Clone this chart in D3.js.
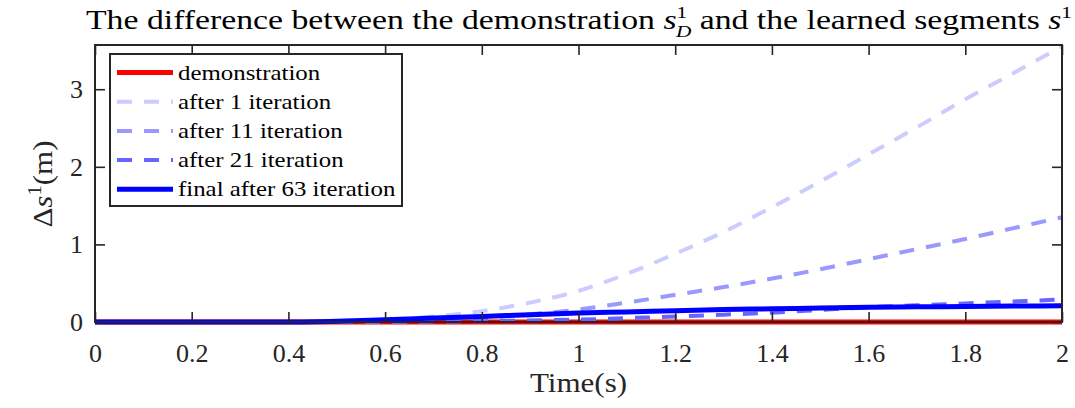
<!DOCTYPE html>
<html>
<head>
<meta charset="utf-8">
<style>
  body { margin: 0; background: #fff; }
  svg { font-family: 'Liberation Serif', 'Times New Roman', serif; }
  .axis .domain { display: none; }
  .axis .tick line { stroke: #262626; stroke-width: 1.6; }
  .axis .tick text { fill: #262626; }
</style>
</head>
<body>
<svg width="1075" height="408"></svg>
<script src="https://d3js.org/d3.v7.min.js"></script>
<script>
// time samples (s)
const time = [0, 0.1, 0.2, 0.3, 0.4, 0.5, 0.6, 0.7, 0.8, 0.9, 1.0,
              1.1, 1.2, 1.3, 1.4, 1.5, 1.6, 1.7, 1.8, 1.9, 2.0];
// difference values (m)
const demonstration = [0, 0, 0, 0, 0, 0, 0, 0, 0, 0, 0,
                       0, 0, 0, 0, 0, 0, 0, 0, 0, 0];
const after1 = [0, 0, 0, 0, 0, 0.01, 0.03, 0.07, 0.14, 0.25, 0.40,
                0.62, 0.88, 1.16, 1.48, 1.81, 2.16, 2.51, 2.87, 3.21, 3.55];
const after11 = [0, 0, 0, 0, 0, 0, 0.01, 0.02, 0.05, 0.10, 0.16,
                 0.25, 0.35, 0.45, 0.56, 0.68, 0.81, 0.94, 1.07, 1.21, 1.35];
const after21 = [0, 0, 0, 0, 0, 0, 0, 0.005, 0.01, 0.02, 0.03,
                 0.05, 0.07, 0.095, 0.12, 0.155, 0.19, 0.215, 0.24, 0.265, 0.29];
const final63 = [0, 0, 0, 0, 0, 0.01, 0.03, 0.05, 0.07, 0.095, 0.115,
                 0.13, 0.145, 0.16, 0.17, 0.18, 0.19, 0.195, 0.20, 0.205, 0.21];

const seriesNames = ["demonstration", "after 1 iteration", "after 11 iteration",
                     "after 21 iteration", "final after 63 iteration"];
const xTicks = [0, 0.2, 0.4, 0.6, 0.8, 1, 1.2, 1.4, 1.6, 1.8, 2];
const yTicks = [0, 1, 2, 3];

const series = [
  { name: seriesNames[0], values: demonstration, color: "#ff0000", width: 5, dash: null },
  { name: seriesNames[1], values: after1, color: "#ccccff", width: 4, dash: "15,12" },
  { name: seriesNames[2], values: after11, color: "#9999ff", width: 4, dash: "15,12" },
  { name: seriesNames[3], values: after21, color: "#6666ff", width: 4, dash: "15,12" },
  { name: seriesNames[4], values: final63, color: "#0000ff", width: 5, dash: null }
];

const svg = d3.select("svg");
const pl = 95, pr = 1062, pt = 45, pb = 322;
const stretch = 1.15; // Computer Modern is wider than Times
const serif = "'Liberation Serif', 'Times New Roman', serif";

const x = d3.scaleLinear().domain([0, 2]).range([pl, pr]);
const y = d3.scaleLinear().domain([0, 3.57]).range([pb, pt]);

svg.append("clipPath").attr("id", "plot")
  .append("rect")
  .attr("x", pl - 4).attr("y", pt - 4)
  .attr("width", pr - pl + 8).attr("height", pb - pt + 8);

// lines
const line = d3.line()
  .x((d, i) => x(time[i]))
  .y(d => y(d))
  .curve(d3.curveMonotoneX);

svg.append("g").attr("clip-path", "url(#plot)")
  .selectAll("path")
  .data(series)
  .join("path")
  .attr("fill", "none")
  .attr("stroke", d => d.color)
  .attr("stroke-width", d => d.width)
  .attr("stroke-dasharray", d => d.dash)
  .attr("d", d => line(d.values));

// axes (ticks inside, mirrored on top/right)
svg.append("g").attr("class", "axis")
  .attr("transform", `translate(0,${pb})`)
  .call(d3.axisBottom(x).tickValues(xTicks).tickSizeInner(-10).tickSizeOuter(0)
    .tickPadding(22).tickFormat(d3.format("~g")))
  .attr("font-family", serif).attr("font-size", 26);
svg.append("g").attr("class", "axis")
  .attr("transform", `translate(0,${pt})`)
  .call(d3.axisTop(x).tickValues(xTicks).tickSizeInner(-10).tickSizeOuter(0).tickFormat(""));
svg.append("g").attr("class", "axis")
  .attr("transform", `translate(${pl},0)`)
  .call(d3.axisLeft(y).tickValues(yTicks).tickSizeInner(-10).tickSizeOuter(0)
    .tickPadding(12).tickFormat(d3.format("d")))
  .attr("font-family", serif).attr("font-size", 26);
svg.append("g").attr("class", "axis")
  .attr("transform", `translate(${pr},0)`)
  .call(d3.axisRight(y).tickValues(yTicks).tickSizeInner(-10).tickSizeOuter(0).tickFormat(""));

svg.append("rect")
  .attr("x", pl).attr("y", pt)
  .attr("width", pr - pl).attr("height", pb - pt)
  .attr("fill", "none").attr("stroke", "#262626").attr("stroke-width", 2);

// title
const title = svg.append("text")
  .attr("x", 86).attr("y", 29)
  .attr("textLength", 986).attr("lengthAdjust", "spacingAndGlyphs")
  .attr("font-size", 27).attr("fill", "#000");
title.append("tspan").text("The difference between the demonstration ");
title.append("tspan").attr("font-style", "italic").text("s");
title.append("tspan").attr("font-size", 17).attr("dy", -11).text("1");
title.append("tspan").attr("font-size", 17).attr("font-style", "italic").attr("dx", -9).attr("dy", 19).text("D");
title.append("tspan").attr("dy", -8).text(" and the learned segments ");
title.append("tspan").attr("font-style", "italic").text("s");
title.append("tspan").attr("font-size", 17).attr("dy", -11).text("1");

// axis labels
svg.append("text")
  .attr("transform", `translate(${(pl + pr) / 2},392) scale(${stretch},1)`)
  .attr("text-anchor", "middle")
  .attr("font-size", 27).attr("fill", "#262626")
  .text("Time(s)");

const yl = svg.append("text")
  .attr("transform", `translate(52,184) rotate(-90) scale(${stretch},1)`)
  .attr("text-anchor", "middle")
  .attr("font-size", 27).attr("fill", "#262626");
yl.append("tspan").text("Δ");
yl.append("tspan").attr("font-style", "italic").text("s");
yl.append("tspan").attr("font-size", 18).attr("dy", -11).text("1");
yl.append("tspan").attr("dy", 11).text("(m)");

// legend
const lg = svg.append("g");
lg.append("rect")
  .attr("x", 110).attr("y", 54)
  .attr("width", 292).attr("height", 152)
  .attr("fill", "#fff").attr("stroke", "#262626").attr("stroke-width", 2);
const items = lg.selectAll("g.item")
  .data(series)
  .join("g")
  .attr("class", "item")
  .attr("transform", (d, i) => `translate(0,${72.5 + i * 29.2})`);
items.append("line")
  .attr("x1", 117).attr("x2", 173)
  .attr("stroke", d => d.color)
  .attr("stroke-width", d => d.width)
  .attr("stroke-dasharray", d => d.dash);
items.append("text")
  .attr("transform", `translate(178,7) scale(1.13,1)`)
  .attr("font-size", 22).attr("fill", "#000")
  .text(d => d.name);
</script>
</body>
</html>
